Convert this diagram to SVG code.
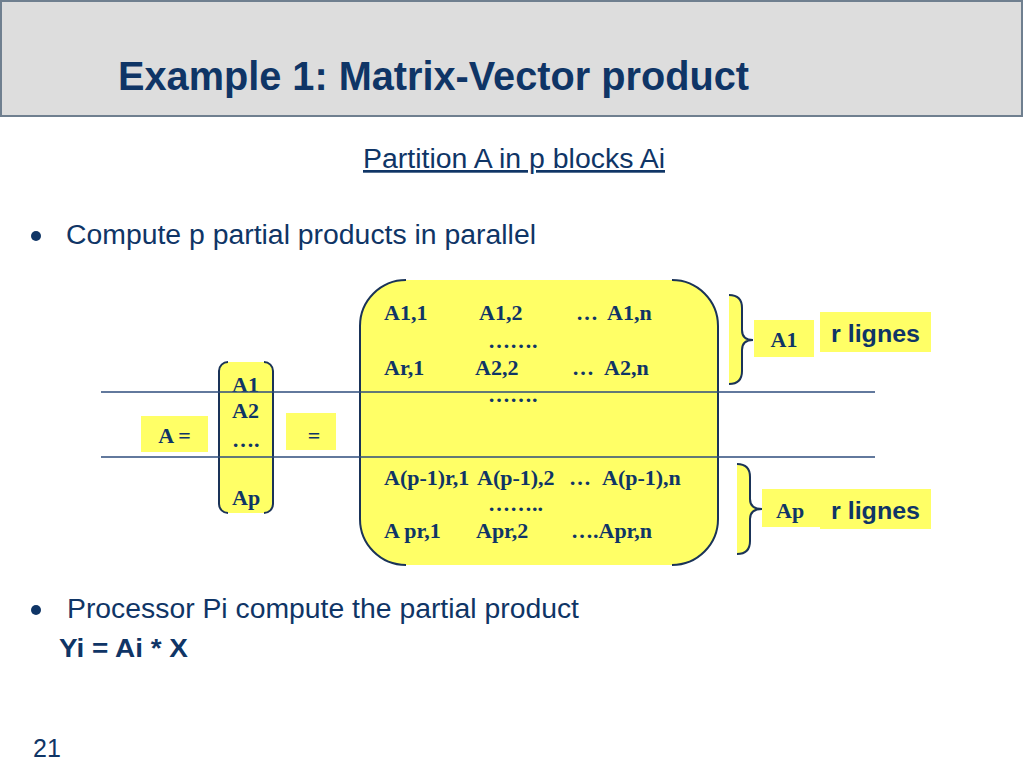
<svg xmlns="http://www.w3.org/2000/svg" width="1024" height="768" viewBox="0 0 1024 768">
<style>
.sans{font-family:"Liberation Sans",Arial,sans-serif;fill:#0f3566}
.b{font-weight:bold}
.serif{font-family:"Liberation Serif","Times New Roman",serif;font-weight:bold;font-size:22px;fill:#0f3566}
.yel{fill:#ffff66}
.brk{fill:none;stroke:#1a3358;stroke-width:2}
.hl{stroke:#2e4d7c;stroke-width:1.6}
</style>
<rect width="1024" height="768" fill="#ffffff"/>
<g id="header">
<rect x="1" y="1" width="1021" height="115" fill="#dddddd" stroke="#6f7f8f" stroke-width="2"/>
<text x="118" y="90" class="sans b" font-size="40" textLength="631" lengthAdjust="spacingAndGlyphs">Example 1: Matrix-Vector product</text>
</g>
<g id="subtitle">
<text x="363" y="168" class="sans" font-size="27" textLength="302" lengthAdjust="spacingAndGlyphs" text-decoration="underline">Partition A in p blocks Ai</text>
</g>
<g id="bullet1">
<circle cx="36" cy="236" r="5" fill="#0f3566"/>
<text x="66" y="244" class="sans" font-size="27" textLength="470" lengthAdjust="spacingAndGlyphs">Compute p partial products in parallel</text>
</g>
<g id="matrix">
<rect x="360" y="280" width="358" height="285" rx="46" class="yel"/>
<path class="brk" d="M406 280 A46 46 0 0 0 360 326 L360 519 A46 46 0 0 0 406 565"/>
<path class="brk" d="M672 280 A46 46 0 0 1 718 326 L718 519 A46 46 0 0 1 672 565"/>
<text class="serif" x="384" y="320">A1,1</text>
<text class="serif" x="479" y="320">A1,2</text>
<text class="serif" x="576" y="320">…</text>
<text class="serif" x="607" y="320">A1,n</text>
<text class="serif" x="488" y="348">…….</text>
<text class="serif" x="384" y="375">Ar,1</text>
<text class="serif" x="475" y="375">A2,2</text>
<text class="serif" x="572" y="375">…</text>
<text class="serif" x="604" y="375">A2,n</text>
<text class="serif" x="488" y="402">…….</text>
<text class="serif" x="384" y="485">A(p-1)r,1</text>
<text class="serif" x="477" y="485">A(p-1),2</text>
<text class="serif" x="569" y="485">…</text>
<text class="serif" x="602" y="485">A(p-1),n</text>
<text class="serif" x="488" y="511">……..</text>
<text class="serif" x="384" y="538">A pr,1</text>
<text class="serif" x="476" y="538">Apr,2</text>
<text class="serif" x="571" y="538">….Apr,n</text>
</g>
<g id="column">
<rect x="219" y="362" width="54" height="151" rx="9" class="yel"/>
<path class="brk" d="M228 362 A9 9 0 0 0 219 371 L219 504 A9 9 0 0 0 228 513"/>
<path class="brk" d="M264 362 A9 9 0 0 1 273 371 L273 504 A9 9 0 0 1 264 513"/>
<text class="serif" x="232" y="392">A1</text>
<text class="serif" x="232" y="418">A2</text>
<text class="serif" x="232" y="447">….</text>
<text class="serif" x="232" y="505">Ap</text>
</g>
<g id="a-eq">
<rect x="141" y="416" width="67" height="36" class="yel"/>
<text class="serif" x="174.5" y="443" text-anchor="middle">A =</text>
</g>
<g id="eq">
<rect x="286" y="413" width="50" height="37" class="yel"/>
<text class="serif" x="314" y="443" text-anchor="middle">=</text>
</g>
<g id="connectors">
<line class="hl" x1="101" y1="392" x2="875" y2="392"/>
<line class="hl" x1="101" y1="457" x2="875" y2="457"/>
</g>
<g id="brace1">
<path d="M729 295 Q742 295 742 308 L742 330 Q742 340 753 340 Q742 340 742 350 L742 371 Q742 384 729 384 Z" class="yel"/>
<path class="brk" d="M729 295 Q742 295 742 308 L742 330 Q742 340 753 340 Q742 340 742 350 L742 371 Q742 384 729 384"/>
</g>
<g id="label-a1">
<rect x="754" y="320" width="60" height="37" class="yel"/>
<text class="serif" x="784" y="347" text-anchor="middle">A1</text>
</g>
<g id="rlignes1">
<rect x="820" y="312" width="111" height="40" class="yel"/>
<text x="831" y="342" class="sans b" font-size="24" textLength="89" lengthAdjust="spacingAndGlyphs">r lignes</text>
</g>
<g id="brace2">
<path d="M737 464 Q750 464 750 477 L750 499 Q750 509 762 509 Q750 509 750 519 L750 541 Q750 554 737 554 Z" class="yel"/>
<path class="brk" d="M737 464 Q750 464 750 477 L750 499 Q750 509 762 509 Q750 509 750 519 L750 541 Q750 554 737 554"/>
</g>
<g id="label-ap">
<rect x="762" y="489" width="58" height="38" class="yel"/>
<text class="serif" x="776" y="518">Ap</text>
</g>
<g id="rlignes2">
<rect x="820" y="489" width="111" height="40" class="yel"/>
<text x="831" y="519" class="sans b" font-size="24" textLength="89" lengthAdjust="spacingAndGlyphs">r lignes</text>
</g>
<g id="bullet2">
<circle cx="36" cy="610" r="5" fill="#0f3566"/>
<text x="67" y="618" class="sans" font-size="27" textLength="512" lengthAdjust="spacingAndGlyphs">Processor Pi compute the partial product</text>
<text x="59" y="657" class="sans b" font-size="25" textLength="129" lengthAdjust="spacingAndGlyphs">Yi = Ai * X</text>
</g>
<g id="pagenum">
<text x="33" y="757" class="sans" font-size="25">21</text>
</g>
</svg>
